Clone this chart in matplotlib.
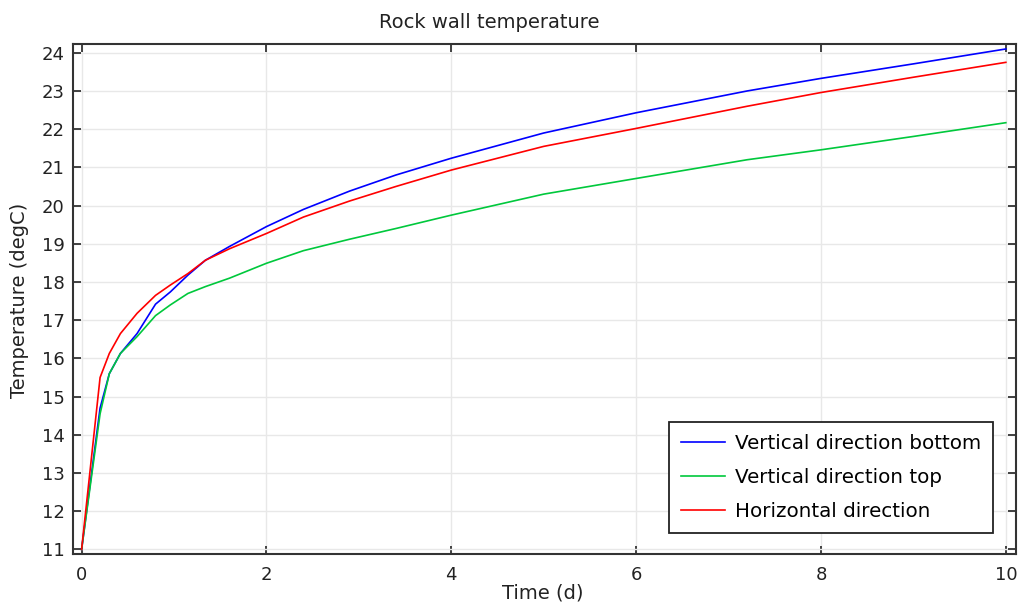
import matplotlib
matplotlib.use("Agg")
import matplotlib.pyplot as plt

# temps (d) et temperatures
time_d = [0, 0.2, 0.3, 0.42, 0.6, 0.8, 0.96, 1.15, 1.34, 1.6, 2.0, 2.4, 2.9, 3.4, 4.0, 5.0, 6.0, 7.2, 8.0, 9.0, 10.0]
vert_bottom = [11, 14.7, 15.6, 16.13, 16.65, 17.42, 17.74, 18.18, 18.57, 18.93, 19.45, 19.9, 20.38, 20.8, 21.24,
               21.9, 22.43, 23.0, 23.33, 23.71, 24.1]
vert_top = [11, 14.55, 15.6, 16.13, 16.57, 17.12, 17.4, 17.7, 17.88, 18.1, 18.49, 18.82, 19.12, 19.4, 19.75,
            20.3, 20.71, 21.2, 21.46, 21.81, 22.17]
horizontal = [11, 15.5, 16.13, 16.65, 17.18, 17.65, 17.92, 18.22, 18.57, 18.87, 19.27, 19.7, 20.12, 20.5, 20.93,
              21.55, 22.02, 22.6, 22.96, 23.36, 23.75]

labels = ["Vertical direction bottom", "Vertical direction top", "Horizontal direction"]
colors = ["#0000ff", "#00c83c", "#ff0000"]

W, H = 1018, 604
fig = plt.figure(figsize=(W / 100, H / 100), dpi=100)
ax = fig.add_axes([73 / W, 1 - 554 / H, (1016 - 73) / W, (554 - 44) / H])

for serie, lab, col in zip([vert_bottom, vert_top, horizontal], labels, colors):
    ax.plot(time_d, serie, color=col, lw=1.2, label=lab)

ax.set_xlim(-0.093, 10.11)
ax.set_ylim(10.88, 24.23)
ax.set_xticks(range(0, 11, 2))
ax.set_yticks(range(11, 25))

ax.grid(True, color="#e8e8e8", lw=1)
ax.set_axisbelow(True)
for s in ax.spines.values():
    s.set_color("#333333")
    s.set_linewidth(1.5)
ax.tick_params(direction="in", length=6, width=1.3, color="#333333",
               top=True, right=True, labelsize=13, labelcolor="#222222")
ax.tick_params(axis="x", pad=9)
ax.tick_params(axis="y", pad=6)

fig.text(489 / W, 1 - 22 / H, "Rock wall temperature", ha="center", va="center", fontsize=14, color="#222222")
fig.text(543 / W, 1 - 593 / H, "Time (d)", ha="center", va="center", fontsize=14, color="#222222")
fig.text(20 / W, 1 - 300 / H, "Temperature (degC)", ha="center", va="center", rotation=90,
         fontsize=14, color="#222222")

leg = ax.legend(loc="lower right", bbox_to_anchor=(0.9756, 0.041), borderaxespad=0,
                fontsize=14.3, fancybox=False, framealpha=1, edgecolor="#222222",
                handlelength=2.2, handletextpad=0.5, labelspacing=0.75, borderpad=0.6)
leg.get_frame().set_linewidth(1.3)

fig.savefig("out.png", dpi=100)
